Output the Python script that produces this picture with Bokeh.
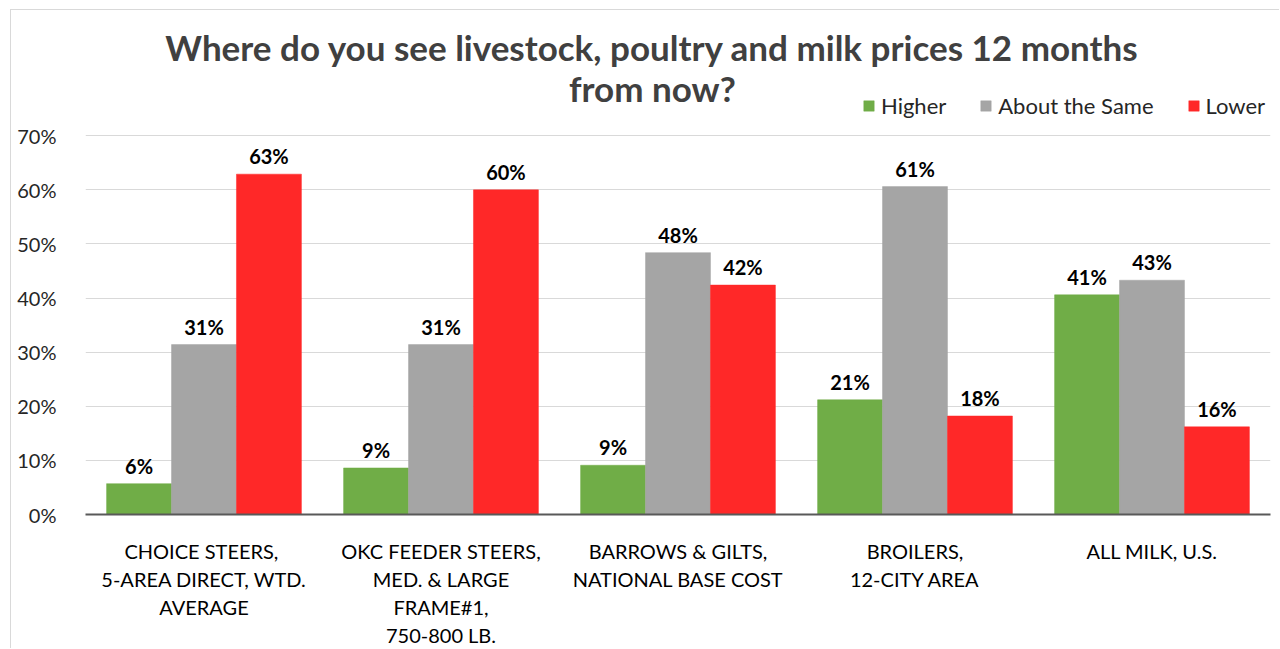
from bokeh.plotting import figure
from bokeh.models import FactorRange, Range1d, ColumnDataSource, Legend, LegendItem, Label, FixedTicker
from bokeh.transform import dodge
from bokeh.core.properties import value
from bokeh.embed import file_html
from bokeh.resources import INLINE

categories = [
    "CHOICE  STEERS,\n5-AREA DIRECT, WTD.\nAVERAGE",
    "OKC FEEDER STEERS,\nMED. & LARGE\nFRAME#1,\n750-800 LB.",
    "BARROWS & GILTS,\nNATIONAL BASE COST",
    "BROILERS,\n12-CITY AREA",
    "ALL MILK, U.S.",
]
higher = [5.7, 8.6, 9.1, 21.2, 40.6]
about_same = [31.4, 31.4, 48.4, 60.6, 43.3]
lower = [62.9, 60.0, 42.4, 18.2, 16.2]
series_names = ["Higher", "About the Same", "Lower"]
series_colors = ["#70AD47", "#A5A5A5", "#FF2828"]
y_ticks = [0, 10, 20, 30, 40, 50, 60, 70]
title_text = "Where do you see livestock, poultry and milk prices 12 months\nfrom now?"

FONT = "Lato"

# the frame reaches up to the top so that the title and legend are drawn inside it
p = figure(
    width=1269, height=639,
    x_range=FactorRange(*categories, range_padding=0),
    y_range=Range1d(0, 93.15),
    output_backend="svg", toolbar_location=None,
    min_border_left=74, min_border_right=10,
    min_border_top=0, min_border_bottom=132,
)
p.styles = {"margin-left": "10px", "margin-top": "9px",
            "border-left": "1px solid #D9D9D9", "border-top": "1px solid #D9D9D9"}
p.outline_line_color = None

bw = 0.274
offsets = [-bw, 0.0, bw]
legend_items = []
for vals, name, col, off in zip([higher, about_same, lower], series_names, series_colors, offsets):
    src = ColumnDataSource(dict(x=categories, y=vals, label=[f"{v:.0f}%" for v in vals]))
    r = p.vbar(x=dodge("x", off, range=p.x_range), top="y", width=bw, source=src,
               fill_color=col, line_color=col, line_width=0.5)
    p.text(x=dodge("x", off, range=p.x_range), y="y", text="label", source=src,
           text_align="center", text_baseline="bottom", y_offset=-6,
           text_font=value(FONT), text_font_style="bold", text_font_size="20px",
           text_color="#000000")
    legend_items.append(LegendItem(label=name, renderers=[r]))

legend = Legend(items=legend_items, orientation="horizontal", location=(777, 395),
                glyph_width=13, glyph_height=13, label_standoff=6, spacing=33,
                padding=0, margin=0, border_line_color=None, background_fill_alpha=0,
                label_text_font=FONT, label_text_font_size="22px", label_text_color="#262626")
p.add_layout(legend)

title = Label(x=2.392, y=82.6, text=title_text, text_align="center", text_baseline="middle",
              text_font=FONT, text_font_style="bold", text_font_size="35px",
              text_color="#404040", text_line_height=0.975)
p.add_layout(title)

p.xgrid.grid_line_color = None
p.ygrid.grid_line_color = "#D9D9D9"
p.ygrid.grid_line_width = 1

p.yaxis.ticker = FixedTicker(ticks=y_ticks)
p.yaxis.major_label_overrides = {t: f"{t}%" for t in y_ticks}
p.yaxis.axis_line_color = None
p.yaxis.major_tick_line_color = None
p.yaxis.minor_tick_line_color = None
p.yaxis.major_label_standoff = 23
p.yaxis.major_label_text_font = FONT
p.yaxis.major_label_text_font_size = "20px"
p.yaxis.major_label_text_color = "#262626"

p.xaxis.axis_line_color = "#595959"
p.xaxis.axis_line_width = 2
p.xaxis.major_tick_line_color = None
p.xaxis.minor_tick_line_color = None
p.xaxis.major_label_standoff = 18
p.xaxis.major_label_text_font = FONT
p.xaxis.major_label_text_font_size = "20px"
p.xaxis.major_label_text_color = "#000000"
p.xaxis.major_label_text_line_height = 1.17
p.xaxis.major_label_orientation = "horizontal"

open("out.html", "w").write(file_html(p, INLINE))
